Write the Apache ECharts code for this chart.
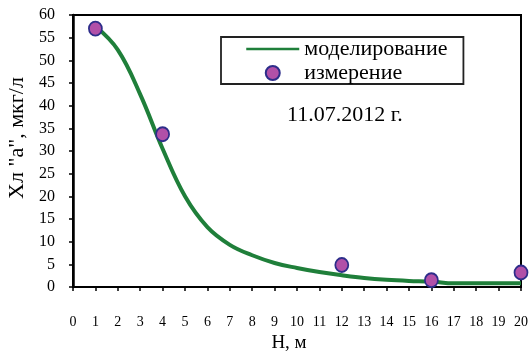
<!DOCTYPE html>
<html><head><meta charset="utf-8">
<script src="https://cdn.jsdelivr.net/npm/echarts@6/dist/echarts.min.js"></script>
<style>html,body{margin:0;padding:0;background:#fff}#c{width:531px;height:351px}</style>
</head><body><div id="c"></div>
<script>
const depthTicks = [0,1,2,3,4,5,6,7,8,9,10,11,12,13,14,15,16,17,18,19,20];
const modelX = [1,2,3,4,5,6,7,8,9,10,11,12,13,14,15,16,17,18,19,20];
const modelY = [57.5,52.3,42.5,30.5,20,13.2,9.3,7,5.3,4.2,3.3,2.6,2.0,1.6,1.35,1.2,0.8,0.8,0.8,0.8];
const measX = [1,4,12,16,20];
const measY = [57,33.7,4.85,1.5,3.2];
const seriesNames = ['моделирование','измерение'];
const dateLabel = '11.07.2012 г.';

const font = '"Liberation Serif","Times New Roman",serif';
const chart = echarts.init(document.getElementById('c'), null, {renderer:'canvas'});
chart.setOption({
  animation:false,
  backgroundColor:'#fff',
  title:{text:dateLabel,left:287,top:104,padding:0,textStyle:{fontFamily:font,fontSize:22,fontWeight:'normal',color:'#000'}},
  legend:{
    left:221, top:37, orient:'vertical',
    padding:[1,16,0,24], itemGap:2, itemWidth:53, itemHeight:14,
    borderColor:'#222', borderWidth:1.8,
    textStyle:{fontFamily:font,fontSize:22,lineHeight:20,color:'#000'},
    data:[{name:seriesNames[0],itemStyle:{opacity:0},lineStyle:{width:2.5,color:'#1f7f3a'}},{name:seriesNames[1]}]
  },
  grid:{left:73,right:10,top:15,bottom:64,outerBoundsMode:'none',containLabel:false,show:true,borderColor:'#000',borderWidth:2,backgroundColor:'transparent'},
  xAxis:{
    type:'value',min:0,max:20,interval:1,
    name:'H, м',nameLocation:'middle',nameGap:43,
    nameTextStyle:{fontFamily:font,fontSize:19,color:'#000',padding:[0,16,0,0]},
    axisLine:{lineStyle:{color:'#000',width:2}},
    axisTick:{length:4,lineStyle:{color:'#000',width:1.5}},
    axisLabel:{margin:28,fontFamily:font,fontSize:14,color:'#000',formatter:v=>depthTicks.includes(v)?String(v):''},
    splitLine:{show:false}
  },
  yAxis:{
    type:'value',min:0,max:60,interval:5,
    name:'Хл "а", мкг/л',nameLocation:'middle',nameGap:41,nameRotate:90,
    nameTextStyle:{fontFamily:font,fontSize:22,color:'#000',padding:[0,0,0,26]},
    axisLine:{show:true,lineStyle:{color:'#000',width:2.5}},
    axisTick:{show:true,length:4,lineStyle:{color:'#000',width:1.5}},
    axisLabel:{margin:18,fontFamily:font,fontSize:16,color:'#000'},
    splitLine:{show:false}
  },
  series:[
    {name:seriesNames[0],type:'line',smooth:0.4,symbol:'none',
     lineStyle:{color:'#1f7f3a',width:4},itemStyle:{color:'#1f7f3a'},
     data:modelX.map((x,i)=>[x,modelY[i]]),z:2},
    {name:seriesNames[1],type:'scatter',symbol:'circle',symbolSize:[13,14],
     itemStyle:{color:'#b150a8',borderColor:'#2d2d8a',borderWidth:1.8,opacity:1},
     data:measX.map((x,i)=>[x,measY[i]]),z:3}
  ]
});
</script></body></html>
